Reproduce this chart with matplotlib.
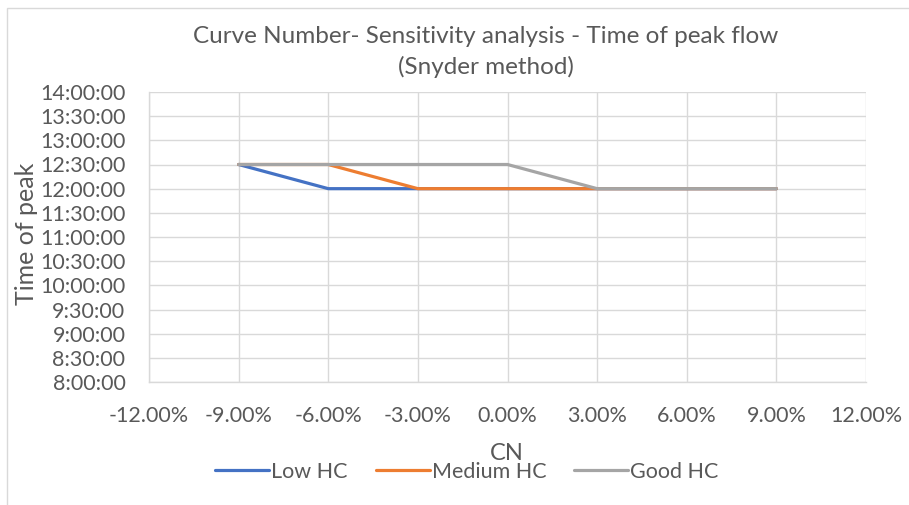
import matplotlib.pyplot as plt
from matplotlib.ticker import FuncFormatter, MultipleLocator
from matplotlib.patches import Rectangle

cn_change = [-0.09, -0.06, -0.03, 0.0, 0.03, 0.06, 0.09]
low_hc = ["12:30:00", "12:00:00", "12:00:00", "12:00:00", "12:00:00", "12:00:00", "12:00:00"]
medium_hc = ["12:30:00", "12:30:00", "12:00:00", "12:00:00", "12:00:00", "12:00:00", "12:00:00"]
good_hc = ["12:30:00", "12:30:00", "12:30:00", "12:30:00", "12:00:00", "12:00:00", "12:00:00"]
series_names = ["Low HC", "Medium HC", "Good HC"]
colors = ["#4472C4", "#ED7D31", "#A5A5A5"]


def to_hours(s):
    h, m, sec = (int(p) for p in s.split(":"))
    return h + m / 60 + sec / 3600


def fmt_time(v, _):
    total = int(round(v * 3600))
    return f"{total // 3600}:{(total % 3600) // 60:02d}:{total % 60:02d}"


def main():
    plt.rcParams['font.family'] = ['Lato', 'DejaVu Sans']
    text_color = "#595959"
    W, H = 909, 505
    fig = plt.figure(figsize=(W / 100, H / 100), dpi=100)
    ax = fig.add_axes([149 / W, 1 - 382 / H, (866 - 149) / W, (382 - 92) / H])

    for name, vals, c in zip(series_names, [low_hc, medium_hc, good_hc], colors):
        ax.plot(cn_change, [to_hours(v) for v in vals], color=c, lw=2.3,
                label=name, solid_joinstyle='round', solid_capstyle='round')

    ax.set_xlim(-0.12, 0.12)
    ax.set_ylim(8, 14)
    ax.xaxis.set_major_locator(MultipleLocator(0.03))
    ax.yaxis.set_major_locator(MultipleLocator(0.5))
    ax.xaxis.set_major_formatter(FuncFormatter(lambda v, _: f"{v * 100:.2f}%"))
    ax.yaxis.set_major_formatter(FuncFormatter(fmt_time))
    ax.grid(True, color="#D9D9D9", lw=1)
    ax.set_axisbelow(True)
    for side in ["top", "right"]:
        ax.spines[side].set_visible(False)
    for side in ["left", "bottom"]:
        ax.spines[side].set_color("#D9D9D9")
        ax.spines[side].set_linewidth(1)
    ax.tick_params(length=0, labelsize=15.5, colors=text_color)
    ax.tick_params(axis='x', pad=17)
    ax.tick_params(axis='y', pad=17)

    ax.set_xlabel("CN", fontsize=17, color=text_color, va='center')
    ax.xaxis.set_label_coords(507 / W, 1 - 453 / H, transform=fig.transFigure)
    ax.set_ylabel("Time of peak", fontsize=18, color=text_color, va='center')
    ax.yaxis.set_label_coords(26 / W, 1 - 234 / H, transform=fig.transFigure)
    fig.text(486 / W, 1 - 52 / H,
             "Curve Number- Sensitivity analysis - Time of peak flow\n(Snyder method)",
             fontsize=17.5, color=text_color, ha='center', va='center', linespacing=1.45)

    fig.legend(loc='center', bbox_to_anchor=(467 / W, 1 - 472 / H), ncol=3, frameon=False,
               fontsize=15.5, handlelength=2.5, handletextpad=0.1, columnspacing=1.3,
               labelcolor=text_color, borderpad=0)

    fig.patches.append(Rectangle((7 / W, -0.1), 1.2, 1 - 8 / H + 0.1,
                                 transform=fig.transFigure, fill=False,
                                 edgecolor="#D9D9D9", lw=1))
    plt.savefig('out.png', dpi=100)


if __name__ == '__main__':
    main()
